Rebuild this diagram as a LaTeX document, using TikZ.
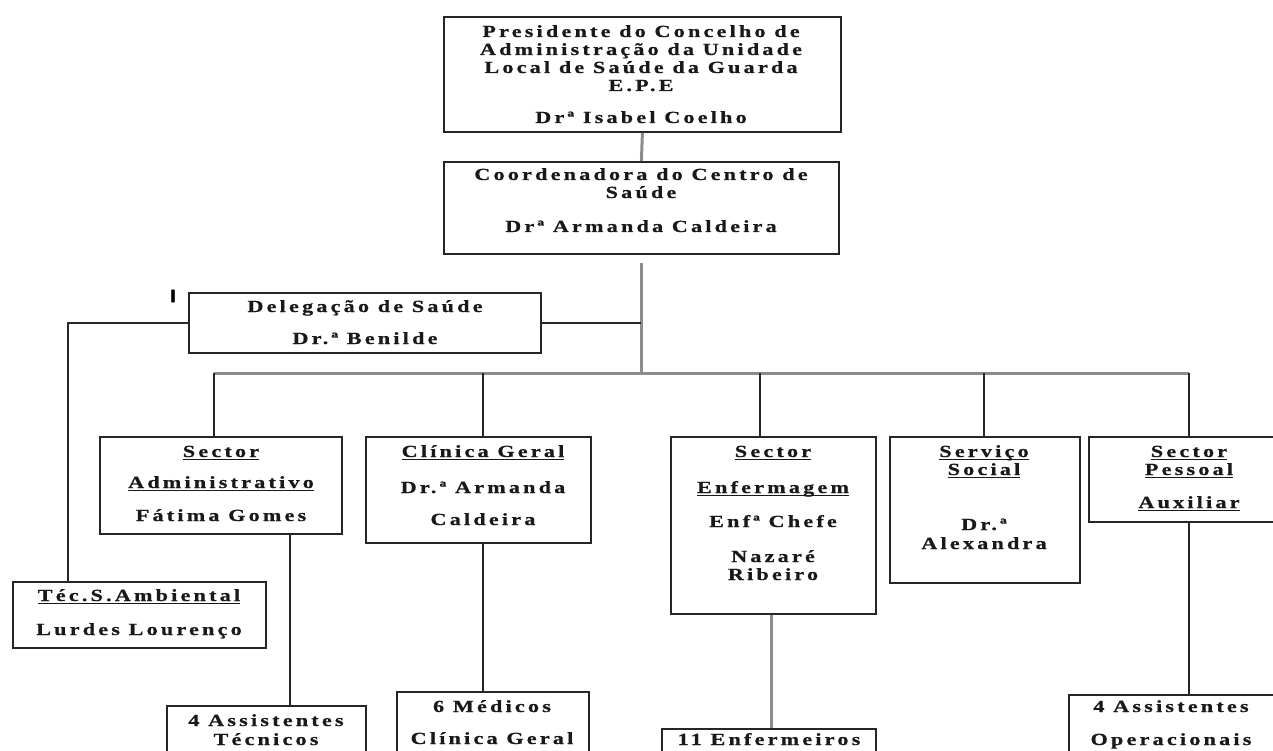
\documentclass[tikz,border=0pt]{standalone}
\usepackage{fontspec}
\newfontfamily\orgfont{Liberation Serif Bold}[LetterSpace=19, FakeStretch=1.3, FakeBold=0.8]
\newfontfamily\markfont{Liberation Sans Bold}[FakeBold=2.5]
\newcommand\myul[1]{\setbox0=\hbox{#1}\rlap{\rule[-2.8pt]{\wd0}{1.3pt}}\box0}
\begin{document}
\begin{tikzpicture}[x=1pt,y=-1pt,
  boxst/.style={draw=black!85, line width=1.8pt, inner sep=0pt, anchor=north west},
  txt/.style={font=\orgfont\fontsize{17}{18}\selectfont, inner sep=0pt, anchor=base, text=black!90},
  conn/.style={draw=black!85, line width=1.8pt},
  gconn/.style={draw=black!45, line width=3pt}]
\useasboundingbox (0,0) rectangle (1273,751);

% boxes
\node[boxst, minimum width=397pt, minimum height=115pt] (pres) at (443,16) {};
\node[boxst, minimum width=395pt, minimum height=92pt] (coord) at (443,161) {};
\node[boxst, minimum width=352pt, minimum height=60pt] (deleg) at (188,292) {};
\node[boxst, minimum width=242pt, minimum height=97pt] (adm) at (99,436) {};
\node[boxst, minimum width=225pt, minimum height=106pt] (clin) at (365,436) {};
\node[boxst, minimum width=205pt, minimum height=177pt] (enf) at (670,436) {};
\node[boxst, minimum width=190pt, minimum height=146pt] (serv) at (889,436) {};
\node[boxst, minimum width=205pt, minimum height=85pt] (pess) at (1088,436) {};
\node[boxst, minimum width=253pt, minimum height=66pt] (tec) at (12,581) {};
\node[boxst, minimum width=199pt, minimum height=60pt] (ast) at (166,705) {};
\node[boxst, minimum width=192pt, minimum height=75pt] (med) at (396,691) {};
\node[boxst, minimum width=214pt, minimum height=40pt] (enfs) at (661,728) {};
\node[boxst, minimum width=215pt, minimum height=70pt] (oper) at (1068,694) {};

% texts
\node[txt] (p1) at (641,37) {Presidente do Concelho de};
\node[txt] (p2) at (641,55) {Administração da Unidade};
\node[txt] (p3) at (641,73) {Local de Saúde da Guarda};
\node[txt] (p4) at (641,91) {E.P.E};
\node[txt] (p5) at (641,123) {Drª Isabel Coelho};

\node[txt] (c1) at (641,180) {Coordenadora do Centro de};
\node[txt] (c2) at (641,198) {Saúde};
\node[txt] (c3) at (641,232) {Drª Armanda Caldeira};

\node[txt] (d1) at (365,312) {Delegação de Saúde};
\node[txt] (d2) at (365,344) {Dr.ª Benilde};
\node[font=\markfont\fontsize{18}{18}\selectfont, inner sep=0pt] (mk) at (173,296) {I};

\node[txt] (a1) at (221,457) {\myul{Sector}};
\node[txt] (a2) at (221,488) {\myul{Administrativo}};
\node[txt] (a3) at (221,521) {Fátima Gomes};

\node[txt] (k1) at (483,457) {\myul{Clínica Geral}};
\node[txt] (k2) at (483,493) {Dr.ª Armanda};
\node[txt] (k3) at (483,525) {Caldeira};

\node[txt] (e1) at (773,457) {\myul{Sector}};
\node[txt] (e2) at (773,493) {\myul{Enfermagem}};
\node[txt] (e3) at (773,527) {Enfª Chefe};
\node[txt] (e4) at (773,562) {Nazaré};
\node[txt] (e5) at (773,580) {Ribeiro};

\node[txt] (s1) at (984,457) {\myul{Serviço}};
\node[txt] (s2) at (984,475) {\myul{Social}};
\node[txt] (s3) at (984,530) {Dr.ª};
\node[txt] (s4) at (984,549) {Alexandra};

\node[txt] (q1) at (1189,457) {\myul{Sector}};
\node[txt] (q2) at (1189,475) {\myul{Pessoal}};
\node[txt] (q3) at (1189,508) {\myul{Auxiliar}};

\node[txt] (t1) at (139,601) {\myul{Téc.S.Ambiental}};
\node[txt] (t2) at (139,635) {Lurdes Lourenço};

\node[txt] (b1) at (266,726) {4 Assistentes};
\node[txt] (b2) at (266,745) {Técnicos};
\node[txt] (m1) at (492,712) {6 Médicos};
\node[txt] (m2) at (492,744) {Clínica Geral};
\node[txt] (n1) at (769,745) {11 Enfermeiros};
\node[txt] (o1) at (1171,712) {4 Assistentes};
\node[txt] (o2) at (1171,745) {Operacionais};

% connector points
\coordinate (top) at (641,263);
\coordinate (bar) at (641,373);
\coordinate (barL) at (214,373);
\coordinate (barR) at (1189,373);

% connectors
\draw[gconn] (pres.south) -- (coord.north);
\draw[gconn] (top) -- (bar);
\draw[gconn] (barL) -- (barR);
\draw[conn] (deleg.east) -- (deleg.east -| bar);
\draw[conn] (deleg.west) -| ([xshift=56pt]tec.north west);
\draw[conn] (barL) -- (barL |- adm.north);
\draw[conn] (bar -| k1) -- (k1 |- clin.north);
\draw[conn] (bar -| 760,0) -- (760,436);
\draw[conn] (bar -| s1) -- (s1 |- serv.north);
\draw[conn] (barR) -- (barR |- pess.north);
\draw[conn] ([xshift=191pt]adm.south west) -- ([xshift=124pt]ast.north west);
\draw[conn] (k1 |- clin.south) -- (k1 |- med.north);
\draw[gconn] ([xshift=101pt]enf.south west) -- ([xshift=110pt]enfs.north west);
\draw[conn] (barR |- pess.south) -- (barR |- oper.north);
\end{tikzpicture}
\end{document}
